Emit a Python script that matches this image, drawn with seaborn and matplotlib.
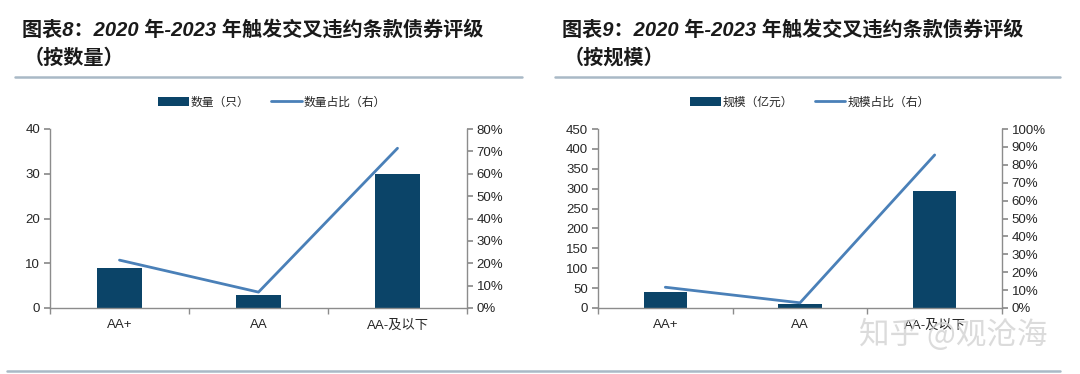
import matplotlib
matplotlib.use("Agg")
import matplotlib.pyplot as plt
import seaborn as sns
import numpy as np
import pandas as pd
from matplotlib.ticker import PercentFormatter, MultipleLocator
from matplotlib.lines import Line2D
from matplotlib.patches import Patch

# ---------------- data ----------------
categories = ["AA+", "AA", "AA-及以下"]
count_values = [9, 3, 30]
count_share = [21.4, 7.1, 71.4]
scale_values = [40, 10, 295]
scale_share = [11.6, 2.9, 85.5]

title_left = ["图表8：2020 年-2023 年触发交叉违约条款债券评级", "（按数量）"]
title_right = ["图表9：2020 年-2023 年触发交叉违约条款债券评级", "（按规模）"]
legend_left = ["数量（只）", "数量占比（右）"]
legend_right = ["规模（亿元）", "规模占比（右）"]

BAR = "#0b4468"
LINE = "#4a80b8"
SPINE = "#8c8c8c"
FAM = ["Liberation Sans", "Noto Sans CJK SC", "DejaVu Sans"]

sns.set_theme(style="white")
plt.rcParams["font.family"] = FAM

fig = plt.figure(figsize=(10.8, 3.74), dpi=100)


def draw(rect, bars, share, ylim_l, ystep_l, ylim_r, labels, legend_pos):
    ax = fig.add_axes(rect)
    df = pd.DataFrame({"cat": categories, "val": bars})
    sns.barplot(data=df, x="cat", y="val", ax=ax, color=BAR, width=0.32,
                saturation=1, edgecolor="none")
    ax2 = ax.twinx()
    dfl = pd.DataFrame({"cat": categories, "pct": share})
    sns.lineplot(data=dfl, x="cat", y="pct", ax=ax2, color=LINE, lw=2, sort=False)
    ax.set_xlim(-0.5, 2.5)
    ax.set_ylim(0, ylim_l)
    ax.yaxis.set_major_locator(MultipleLocator(ystep_l))
    ax2.set_ylim(0, ylim_r)
    ax2.yaxis.set_major_locator(MultipleLocator(10))
    ax2.yaxis.set_major_formatter(PercentFormatter(decimals=0))
    for a in (ax, ax2):
        a.set_xlabel("")
        a.set_ylabel("")
        a.spines["top"].set_visible(False)
        for s in ("left", "right", "bottom"):
            a.spines[s].set_color(SPINE)
            a.spines[s].set_linewidth(1.0)
        a.grid(False)
    ax.spines["right"].set_visible(False)
    ax2.spines["left"].set_visible(False)
    ax2.spines["bottom"].set_visible(False)
    ax.set_xticks(range(len(categories)))
    ax.set_xticklabels(categories, fontsize=9.5, family=FAM)
    ax.set_xticks([-0.5, 0.5, 1.5, 2.5], minor=True)
    ax.tick_params(axis="x", which="major", length=0, pad=8)
    ax.tick_params(axis="x", which="minor", length=4, color=SPINE, direction="out", bottom=True)
    ax.tick_params(axis="y", length=4, color=SPINE, direction="out", labelsize=9.5, left=True, pad=3)
    ax2.tick_params(axis="y", length=4, color=SPINE, direction="out", labelsize=9.5, right=True, pad=3)
    handles = [Patch(facecolor=BAR, edgecolor="none"), Line2D([], [], color=LINE, lw=2)]
    ax.legend(handles, labels, loc="center", bbox_to_anchor=legend_pos,
              bbox_transform=fig.transFigure, ncol=2, frameon=False,
              handlelength=2.6, handleheight=0.7, columnspacing=1.8,
              handletextpad=0.2, prop={"family": ["Noto Sans CJK SC"], "size": 8.5})
    return ax, ax2


draw([50 / 1080, 1 - 308 / 374, 417 / 1080, 179 / 374], count_values, count_share,
     40, 10, 80, legend_left, (272 / 1080, 1 - 102 / 374))
draw([598 / 1080, 1 - 308 / 374, 404 / 1080, 179 / 374], scale_values, scale_share,
     450, 50, 100, legend_right, (810 / 1080, 1 - 102 / 374))

# titles
for x0, t in ((22, title_left), (562, title_right)):
    fig.text(x0 / 1080, 1 - 30 / 374, t[0], fontsize=14.5, fontweight="bold",
             fontstyle="italic", family=["Liberation Sans", "Noto Sans CJK SC"],
             va="center", ha="left", color="#1a1a1a")
    fig.text((x0 + 2) / 1080, 1 - 57 / 374, t[1], fontsize=14.5, fontweight="bold",
             family=["Noto Sans CJK SC"], va="center", ha="left", color="#1a1a1a")

# separator lines
fig.add_artist(Line2D([15 / 1080, 522 / 1080], [1 - 77 / 374] * 2, color="#a9b9c6", lw=1.8))
fig.add_artist(Line2D([555 / 1080, 1060 / 1080], [1 - 77 / 374] * 2, color="#a9b9c6", lw=1.8))
fig.add_artist(Line2D([7 / 1080, 1060 / 1080], [1 - 371 / 374] * 2, color="#a9b9c6", lw=1.8))

# watermark
fig.text(953 / 1080, 1 - 335 / 374, "知乎 @观沧海", fontsize=22, color="#d0d0d0",
         alpha=0.75, family=["Noto Sans CJK SC"], ha="center", va="center", zorder=0)

fig.savefig("out.png", dpi=100, facecolor="white")
